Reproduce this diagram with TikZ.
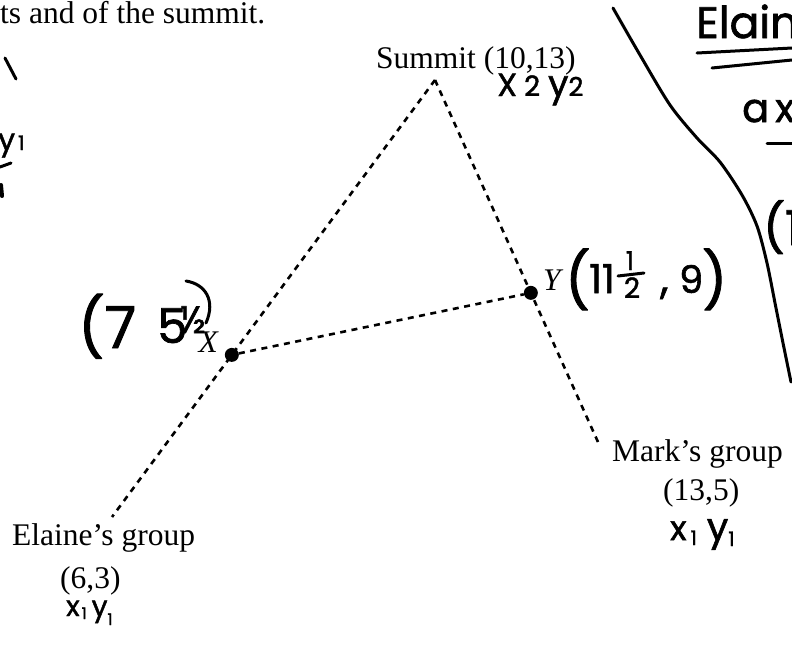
\documentclass[tikz,border=0pt]{standalone}
\usepackage{fontspec}
\setmainfont{Liberation Serif}
\newfontfamily\handfont[FakeBold=1.5]{Poppins}
\usetikzlibrary{calc}
\newcommand\hsz[1]{\fontsize{#1}{#1}\selectfont}
\begin{document}
\begin{tikzpicture}[x=1pt,y=-1pt,
  print/.style={font=\hsz{31.5}, inner sep=0pt},
  printit/.style={font=\itshape\hsz{31.5}, inner sep=0pt},
  hw/.style={font=\handfont\hsz{#1}, inner sep=0pt},
  hw/.default=36,
  dashline/.style={line width=2.6pt, dash pattern=on 6pt off 5.5pt},
  dot/.style={circle, fill=black, inner sep=0pt, minimum size=14pt},
  pen/.style={line width=3pt, line cap=round, line join=round}]
\useasboundingbox (0,0) rectangle (792,646);
\begin{scope}
\clip (0,0) rectangle (792,646);

% printed labels
\node[print, anchor=base west] (intro) at (0,23) {ts and of the summit.};
\node[print, anchor=base west] (summitlbl) at (376,68) {Summit (10,13)};
\node[print, anchor=base west] (marklbl) at (612,461) {Mark’s group};
\node[print, anchor=base west] (markxy) at (663,500) {(13,5)};
\node[print, anchor=base west] (elainelbl) at (12,545) {Elaine’s group};
\node[print, anchor=base west] (elainexy) at (60,588) {(6,3)};

% triangle
\coordinate (S) at (435,80);
\coordinate (E) at (112,517);
\coordinate (M) at (598,442);
\node[dot] (X) at ($(S)!0.629!(E)$) {};
\node[dot] (Y) at ($(S)!0.588!(M)$) {};
\draw[dashline] (S) -- (E);
\draw[dashline] (S) -- (M);
\draw[dashline] (X) -- (Y);
\node[printit, anchor=base east] (Xl) at (218,352) {X};
\node[printit, anchor=base west] (Yl) at (543,290) {Y};

% handwriting near summit
\node[hw=32, anchor=base west] (sumhw) at (497,96) {X\hspace{7pt}{\hsz{28}2}\hspace{8pt}{\hsz{36}y}{\hsz{26}2}};

% handwriting at left edge
\draw[pen] (5,58) -- (16,79);
\node[hw=30, anchor=base west] (lefty) at (-2,150) {y\hspace{3pt}{\hsz{20}1}};
\draw[pen] (0,167) -- (11,163);
\draw[pen, line width=4pt] (1,185) -- (2,196);

% (7 5 1/2 near X
\node[hw=58, anchor=base west] (p7) at (78,348) {(7};
\node[hw=48, anchor=base west] (five) at (157,343) {5};
\node[hw=38, anchor=base west] (halfx) at (180,333) {½};
\draw[pen] (186,281) .. controls (205,284) and (216,300) .. (206,323);

% (11 1/2, 9) near Y
\node[hw=55, anchor=base west] (lpar) at (565,300) {(};
\node[hw=40, anchor=base west] (eleven) at (589,293) {11};
\node[hw=26, anchor=base] (hnum) at (630,270) {1};
\draw[pen] (618,276) -- (644,273);
\node[hw=28, anchor=base] (hden) at (632,298) {2};
\node[hw=42, anchor=base west] (comma) at (660,293) {,};
\node[hw=38, anchor=base west] (nine) at (679,293) {9};
\node[hw=55, anchor=base west] (rpar) at (702,300) {)};

% right margin notes
\draw[pen] plot[smooth] coordinates {(613,8) (640,55) (670,105) (697,138) (720,162) (742,195) (757,226) (767,263) (775,303) (783,343) (791,382)};
\node[hw=44, anchor=base west] (elain) at (696,38) {Elain};
\draw[pen] (697,53) -- (792,48);
\draw[pen] (712,68) -- (792,60);
\node[hw=40, anchor=base west] (ax) at (742,122) {a\hspace{6pt}x};
\draw[pen] (767,143) -- (792,143);
\node[hw=48, anchor=base west] (p1) at (763,245) {(1};

% handwriting under groups
\node[hw=34, anchor=base west] (markhw) at (670,540) {x\hspace{4pt}\raisebox{-5pt}{\hsz{20}1}\hspace{10pt}{\hsz{38}y}\raisebox{-6pt}{\hsz{20}1}};
\node[hw=28, anchor=base west] (elainehw) at (66,616) {x\hspace{2pt}\raisebox{-3pt}{\hsz{16}1}\hspace{5pt}y\raisebox{-9pt}{\hsz{16}1}};
\end{scope}
\end{tikzpicture}
\end{document}
